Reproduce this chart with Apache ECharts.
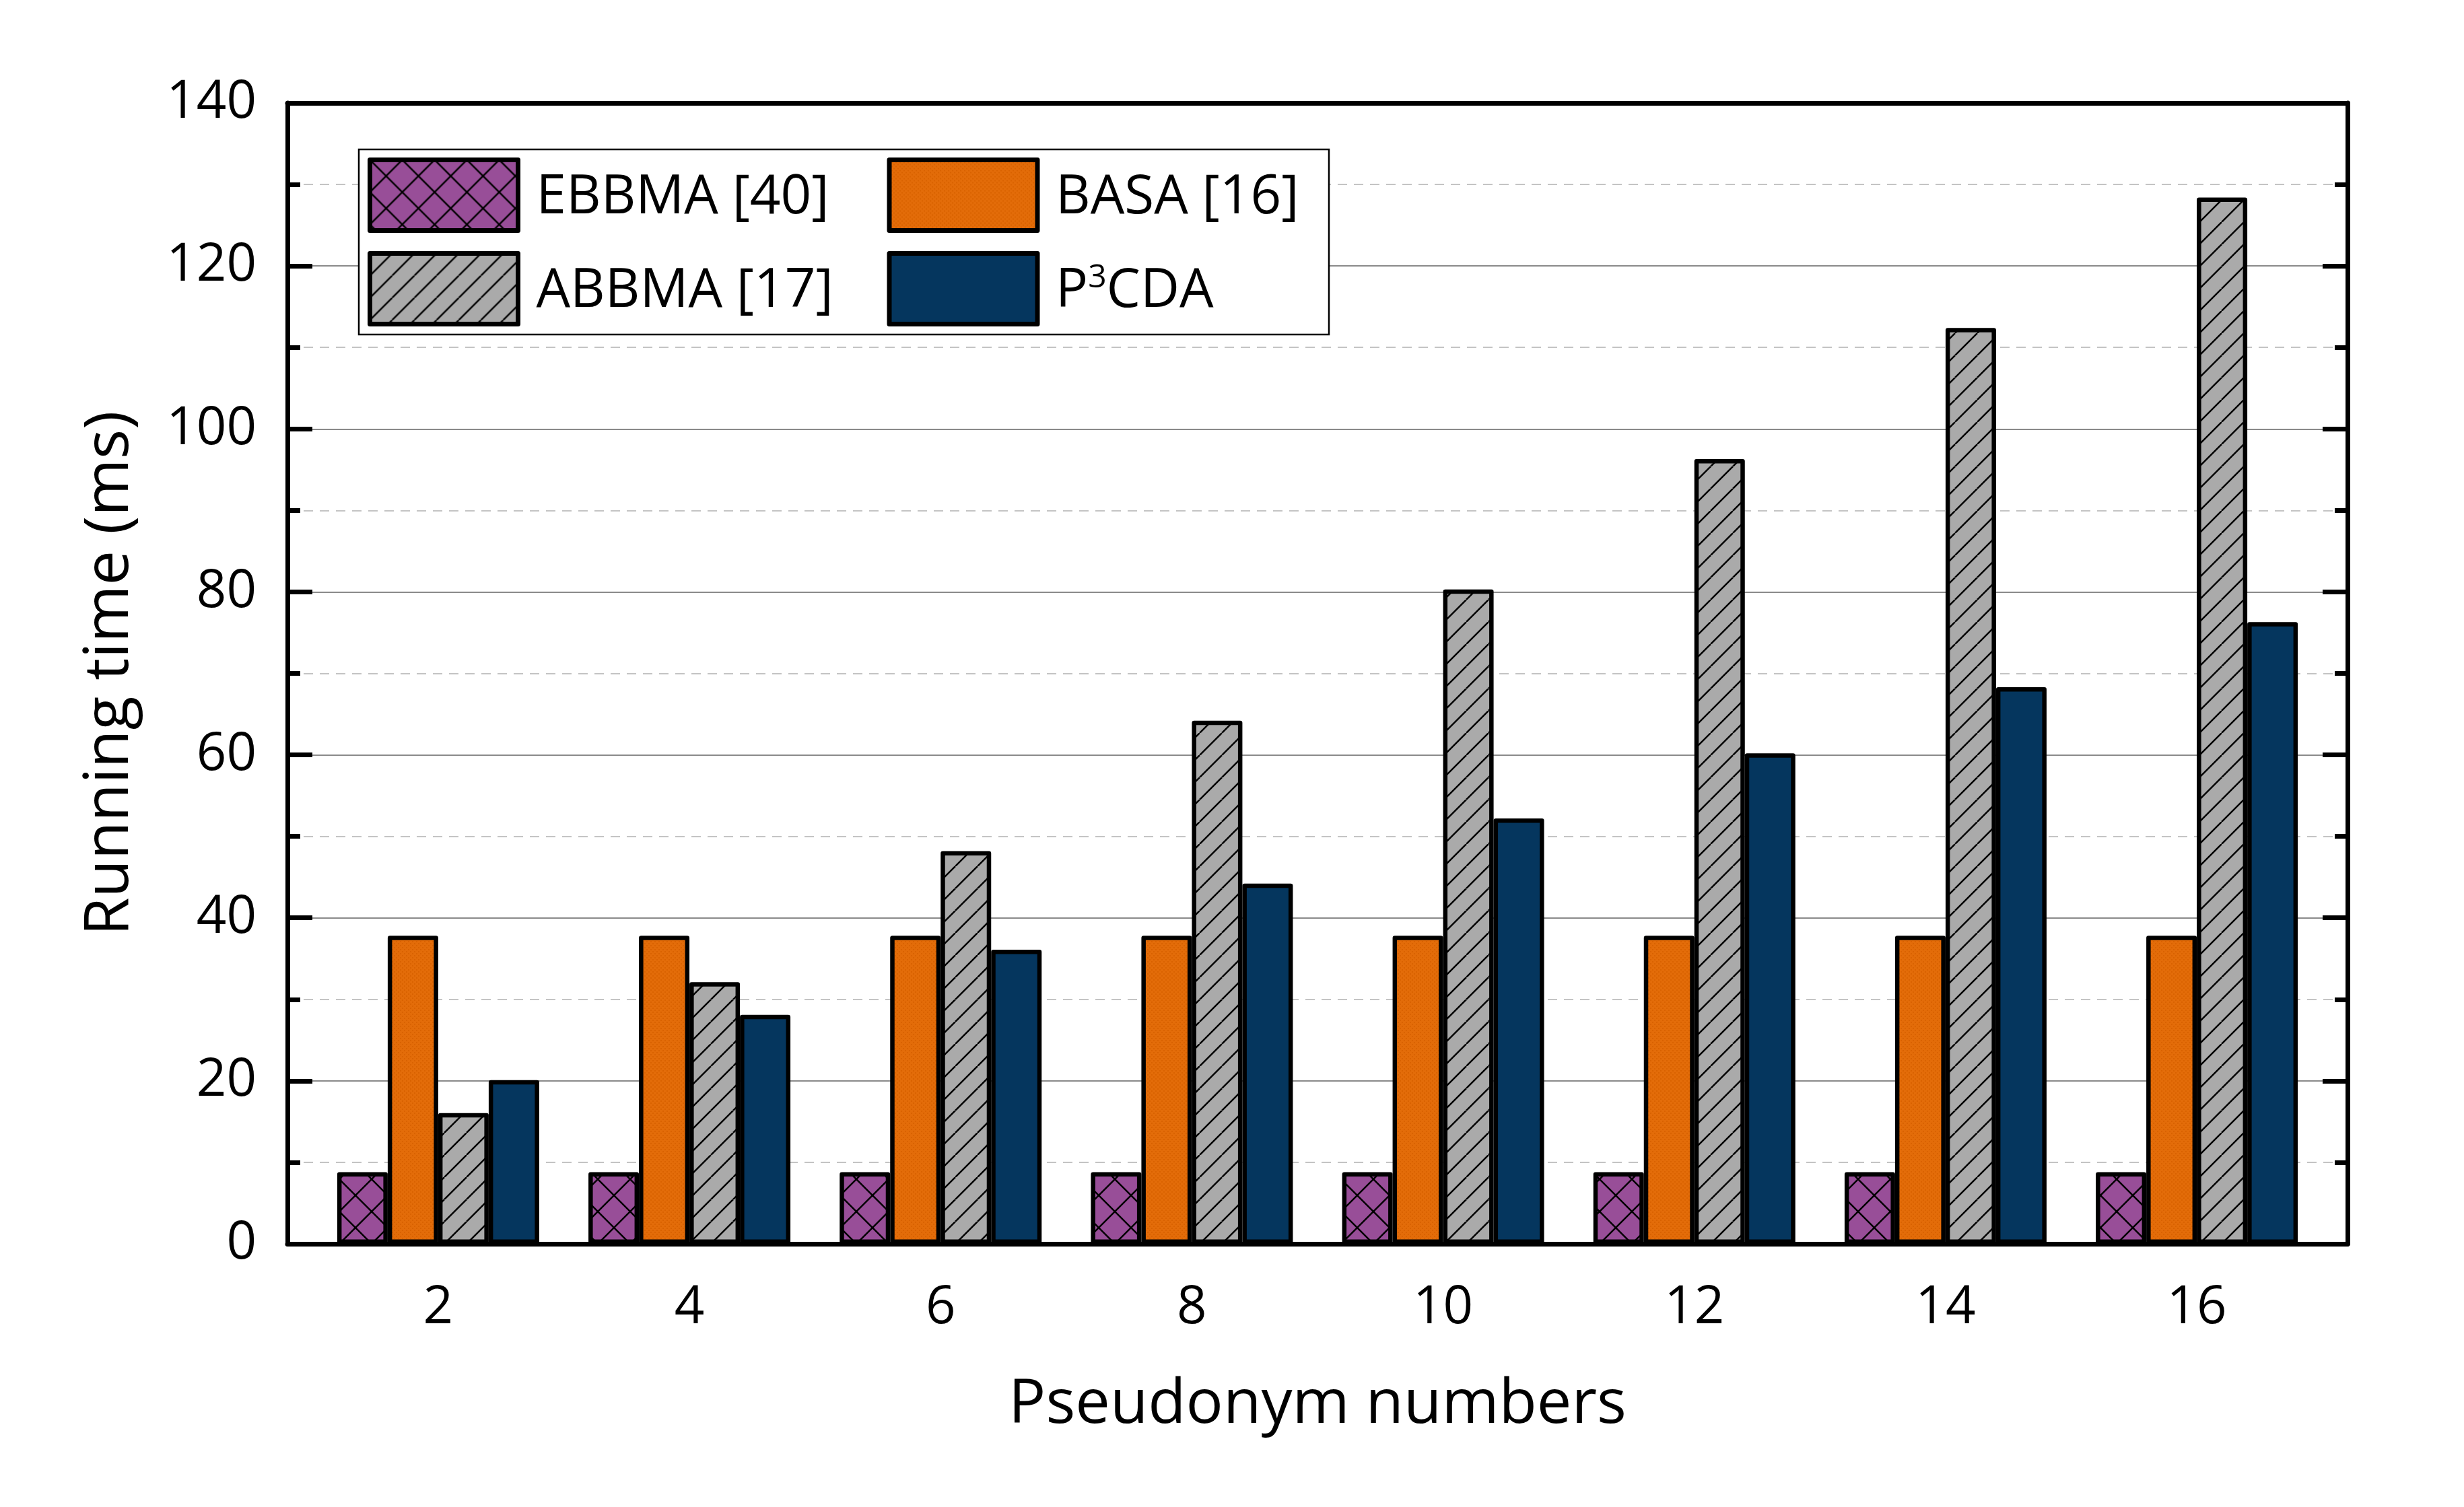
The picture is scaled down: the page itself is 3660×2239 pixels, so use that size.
<!DOCTYPE html>
<html>
<head>
<meta charset="utf-8">
<script src="https://cdn.jsdelivr.net/npm/echarts@6/dist/echarts.min.js"></script>
<style>
  html, body { margin: 0; padding: 0; background: #fff; }
  #chart { width: 3660px; height: 2239px; }
</style>
</head>
<body>
<div id="chart"></div>
<script>
// Running time vs pseudonym numbers, grouped bars

const pseudonymNumbers = [2, 4, 6, 8, 10, 12, 14, 16];
const ebbmaTime = [8.8, 8.8, 8.8, 8.8, 8.8, 8.8, 8.8, 8.8];
const basaTime = [37.8, 37.8, 37.8, 37.8, 37.8, 37.8, 37.8, 37.8];
const abbmaTime = [16.05, 32.1, 48.2, 64.2, 80.3, 96.3, 112.4, 128.4];
const p3cdaTime = [20.1, 28.1, 36.1, 44.2, 52.2, 60.2, 68.3, 76.3];
const seriesNames = ['EBBMA [40]', 'BASA [16]', 'ABBMA [17]', 'P3CDA'];

const COLORS = {
  purple: '#984e98',
  orange: '#e36c09',
  gray: '#aaaaaa',
  navy: '#05365e',
  major: '#8a8a8a',
  minor: '#c4c4c4',
};

// tile patterns for the hatched fills
function hatch(bg, period, dirs, lw) {
  const c = document.createElement('canvas');
  c.width = c.height = period;
  const ctx = c.getContext('2d');
  ctx.fillStyle = bg;
  ctx.fillRect(0, 0, period, period);
  ctx.strokeStyle = '#000';
  ctx.lineWidth = lw;
  for (const d of dirs) {
    for (let k = -1; k <= 1; k++) {
      ctx.beginPath();
      if (d === '/') { ctx.moveTo(k * period, period); ctx.lineTo(k * period + period, 0); }
      else { ctx.moveTo(k * period, 0); ctx.lineTo(k * period + period, period); }
      ctx.stroke();
    }
  }
  return { image: c, repeat: 'repeat' };
}

function dots(bg, dot) {
  const c = document.createElement('canvas');
  c.width = c.height = 6;
  const ctx = c.getContext('2d');
  ctx.fillStyle = bg;
  ctx.fillRect(0, 0, 6, 6);
  ctx.fillStyle = dot;
  ctx.fillRect(0, 0, 2, 2);
  ctx.fillRect(3, 3, 2, 2);
  return { image: c, repeat: 'repeat' };
}

const fills = [
  hatch(COLORS.purple, 48, ['/', '\\'], 2.5),
  dots(COLORS.orange, '#d96200'),
  hatch(COLORS.gray, 33, ['/'], 2.5),
  COLORS.navy,
];
const values = [ebbmaTime, basaTime, abbmaTime, p3cdaTime];

const axisLineStyle = { color: '#000', width: 7 };

function barSeries(i) {
  return {
    name: seriesNames[i],
    type: 'bar',
    barWidth: 75,
    barGap: '0%',
    data: pseudonymNumbers.map((x, j) => [x, values[i][j]]),
    itemStyle: { color: fills[i], borderColor: '#000', borderWidth: 6.5, borderJoin: 'round' },
    emphasis: { disabled: true },
  };
}

const chart = echarts.init(document.getElementById('chart'), null, { renderer: 'canvas' });

chart.setOption({
  backgroundColor: '#fff',
  animation: false,
  textStyle: { fontFamily: 'Open Sans' },
  grid: { left: 427, right: 173, top: 153, bottom: 391, outerBoundsMode: 'none' },
  legend: {
    left: 533, top: 222,
    orient: 'horizontal',
    width: 1440,
    itemWidth: 220, itemHeight: 105, itemGap: 27,
    padding: [12, 13, 12, 13],
    borderColor: '#000', borderWidth: 2.5, backgroundColor: '#fff',
    icon: 'rect',
    itemStyle: { borderWidth: 7, borderColor: '#000', borderJoin: 'round' },
    textStyle: {
      fontSize: 80, color: '#000', lineHeight: 100, padding: [8, 0, 0, 22],
      rich: { sup: { fontSize: 48, lineHeight: 48, verticalAlign: 'top', color: '#000', padding: [6, 0, 0, 0] } },
    },
    formatter: name => name === 'P3CDA' ? 'P{sup|3}CDA' : name,
    data: [
      { name: seriesNames[0], textStyle: { width: 494 } },
      { name: seriesNames[1], textStyle: { width: 393 } },
      { name: seriesNames[2], textStyle: { width: 494 } },
      { name: seriesNames[3], textStyle: { width: 393 } },
    ],
  },
  xAxis: [
    {
      type: 'value', min: 0.8, max: 17.2, position: 'bottom',
      axisLine: { show: true, onZero: false, lineStyle: axisLineStyle },
      axisTick: { show: false },
      splitLine: { show: false },
      axisLabel: { customValues: pseudonymNumbers, fontSize: 78, color: '#000', margin: 57 },
      name: 'Pseudonym numbers', nameLocation: 'middle', nameGap: 194,
      nameTextStyle: { fontSize: 92, color: '#000' },
    },
    {
      type: 'value', min: 0.8, max: 17.2, position: 'top',
      axisLine: { show: true, onZero: false, lineStyle: axisLineStyle },
      axisTick: { show: false }, axisLabel: { show: false }, splitLine: { show: false },
    },
  ],
  yAxis: [
    {
      type: 'value', min: 0, max: 140, interval: 20, position: 'left',
      axisLine: { show: true, onZero: false, lineStyle: axisLineStyle },
      axisTick: { show: true, inside: true, length: 37, lineStyle: axisLineStyle },
      minorTick: { show: true, splitNumber: 2, length: 19, lineStyle: axisLineStyle },
      splitLine: { show: true, lineStyle: { color: COLORS.major, width: 2 } },
      minorSplitLine: { show: true, lineStyle: { color: COLORS.minor, width: 2, type: [14, 10] } },
      axisLabel: { fontSize: 78, color: '#000', margin: 46 },
      name: 'Running time (ms)', nameLocation: 'middle', nameGap: 217,
      nameTextStyle: { fontSize: 92, color: '#000' },
    },
    {
      type: 'value', min: 0, max: 140, interval: 20, position: 'right',
      axisLine: { show: true, onZero: false, lineStyle: axisLineStyle },
      axisTick: { show: true, inside: true, length: 37, lineStyle: axisLineStyle },
      minorTick: { show: true, splitNumber: 2, length: 19, lineStyle: axisLineStyle },
      splitLine: { show: false }, minorSplitLine: { show: false },
      axisLabel: { show: false },
    },
  ],
  series: [0, 1, 2, 3].map(barSeries),
});
</script>
</body>
</html>
